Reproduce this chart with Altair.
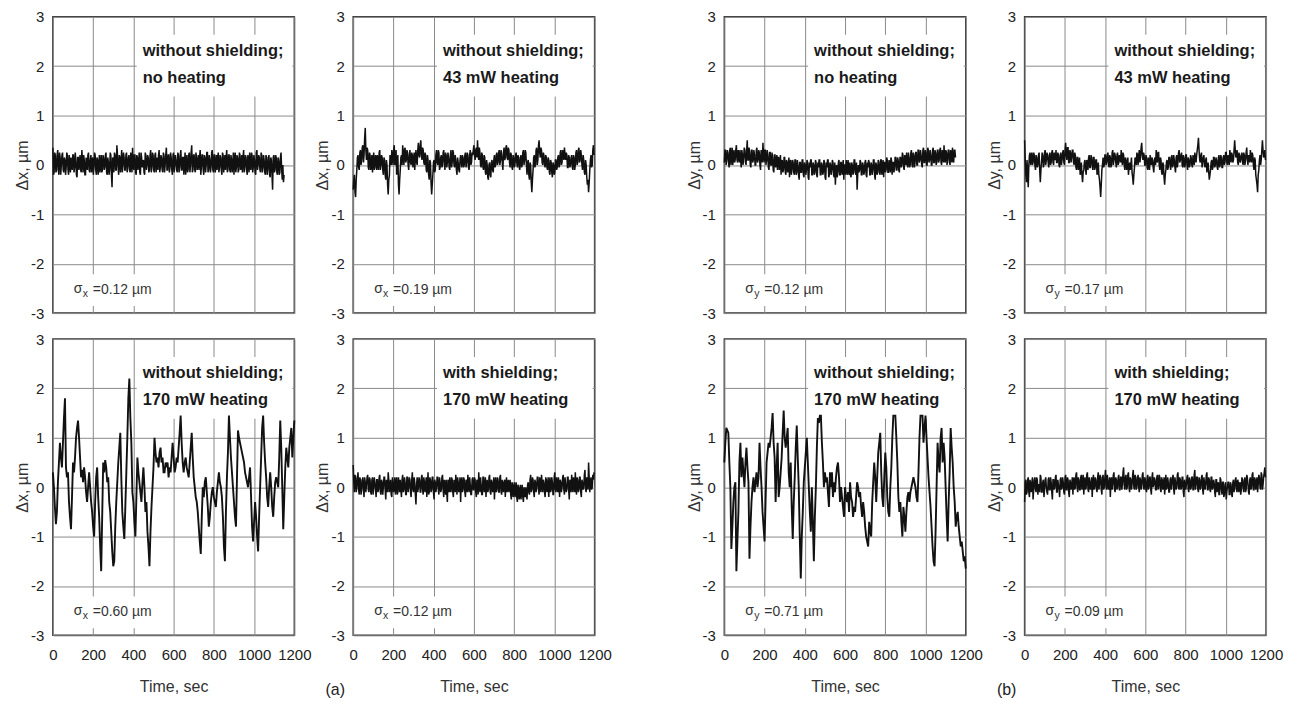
import altair as alt
import pandas as pd

# ---------------- data ----------------
TIME_TICKS = [0, 200, 400, 600, 800, 1000, 1200]
Y_TICKS = [-3, -2, -1, 0, 1, 2, 3]

# sampling steps (s) of the hand-read traces; "_B" lists are the samples read half a step later
STEP_DX_NOHEAT = 6
STEP_DX_43MW = 6
STEP_DX_170MW = 5
STEP_DX_SHIELD = 6
STEP_DY_NOHEAT = 6
STEP_DY_43MW = 6
STEP_DY_170MW = 5
STEP_DY_SHIELD = 6

DX_NOHEAT = [
    0.35, -0.15, 0.2, -0.1, 0.3, -0.2, 0.15, 0.0, 0.25, -0.15, 0.1, -0.05, 0.2, -0.2, 0.05, 0.15,
    -0.1, 0.2, -0.05, 0.1, -0.25, 0.15, 0.05, -0.1, 0.3, -0.15, 0.1, -0.2, 0.05, 0.2, -0.1, 0.1,
    -0.15, 0.15, -0.05, 0.2, -0.2, 0.1, 0.0, -0.15, 0.2, -0.1, 0.15, -0.05, 0.25, -0.2, 0.05, -0.1,
    0.2, -0.45, 0.1, 0.25, -0.1, 0.4, -0.05, 0.2, -0.15, 0.3, 0.0, 0.15, -0.1, 0.25, -0.05, 0.2,
    -0.15, 0.1, 0.35, -0.1, 0.2, -0.2, 0.15, 0.05, -0.15, 0.25, -0.05, 0.1, -0.2, 0.2, 0.0, 0.15,
    -0.1, 0.3, -0.05, 0.2, -0.15, 0.25, 0.05, -0.1, 0.3, -0.05, 0.15, -0.15, 0.2, 0.0, 0.35, -0.1,
    0.2, -0.05, 0.15, -0.2, 0.25, 0.0, 0.1, -0.15, 0.2, -0.05, 0.3, -0.1, 0.15, 0.05, -0.2, 0.2,
    -0.1, 0.25, 0.0, 0.4, -0.1, 0.2, -0.15, 0.15, 0.05, -0.1, 0.3, -0.05, 0.2, -0.2, 0.15, 0.0,
    0.25, -0.1, 0.1, -0.05, 0.3, -0.15, 0.2, 0.0, -0.1, 0.25, -0.05, 0.15, -0.2, 0.2, 0.05, -0.1,
    0.3, -0.1, 0.2, -0.15, 0.1, 0.05, -0.2, 0.25, -0.05, 0.15, -0.1, 0.2, 0.0, -0.15, 0.3, -0.05,
    0.15, -0.2, 0.1, 0.25, -0.1, 0.2, -0.05, 0.1, -0.2, 0.3, 0.0, 0.15, -0.15, 0.2, -0.05, 0.1,
    -0.2, 0.15, -0.1, 0.2, -0.25, 0.1, -0.5, 0.2, -0.1, 0.15, -0.2, 0.1, -0.15, 0.25, -0.3, -0.35,
]
DX_NOHEAT_B = [
    -0.2, 0.25, -0.15, 0.2, -0.1, 0.25, -0.2, 0.2, -0.1, 0.15, -0.2, 0.25, -0.1, 0.2, -0.15, 0.05,
    0.2, -0.15, 0.25, -0.2, 0.15, -0.1, 0.2, -0.15, 0.1, 0.2, -0.2, 0.15, -0.1, 0.25, -0.15, 0.2,
    0.1, -0.2, 0.25, -0.1, 0.15, -0.2, 0.2, 0.0, -0.15, 0.2, -0.1, 0.2, -0.15, 0.15, -0.2, 0.25,
    -0.2, 0.15, -0.15, 0.2, -0.1, 0.2, -0.2, 0.15, 0.1, -0.15, 0.25, -0.1, 0.2, -0.15, 0.15, -0.1,
    0.25, -0.15, 0.0, 0.2, -0.15, 0.2, -0.1, 0.25, -0.2, 0.15, 0.05, -0.15, 0.25, -0.1, 0.2, -0.15,
    0.2, -0.15, 0.25, -0.1, 0.2, -0.15, 0.15, 0.2, -0.15, 0.2, -0.1, 0.25, -0.15, 0.2, -0.1, 0.2,
    -0.15, 0.25, -0.1, 0.2, -0.15, 0.2, -0.1, 0.25, -0.15, 0.2, -0.1, 0.15, -0.2, 0.25, 0.1, -0.15,
    0.2, -0.15, 0.25, -0.15, 0.2, -0.1, 0.25, -0.1, 0.2, 0.15, -0.2, 0.2, -0.1, 0.2, -0.15, 0.25,
    -0.15, 0.2, -0.15, 0.25, -0.1, 0.2, -0.15, 0.2, 0.15, -0.15, 0.2, -0.1, 0.25, -0.15, 0.2, 0.15,
    -0.15, 0.2, -0.1, 0.2, -0.15, 0.25, 0.1, -0.15, 0.2, -0.15, 0.25, -0.1, 0.2, 0.15, -0.15, 0.2,
    -0.1, 0.2, -0.15, -0.05, 0.25, -0.15, 0.2, -0.15, 0.25, -0.1, 0.2, -0.1, 0.25, -0.15, 0.2, -0.15,
    0.2, -0.2, 0.15, -0.2, 0.15, -0.2, 0.15, -0.15, 0.2, -0.15, 0.15, -0.2, 0.15, -0.1, 0.0, -0.2,
]

DX_43MW = [
    -0.5, -0.2, -0.65, -0.1, 0.2, -0.1, 0.3, 0.1, 0.4, 0.2, 0.75, 0.1, 0.3, -0.1, 0.2, 0.0, -0.15, 0.25, -0.05, 0.15,
    0.2, -0.1, 0.3, 0.0, 0.15, -0.2, 0.1, -0.3, 0.0, -0.6, -0.2, 0.1, 0.3, 0.0, 0.4, 0.1, -0.2, 0.2, -0.6, -0.1,
    0.2, 0.4, 0.0, 0.35, 0.1, 0.25, -0.1, 0.3, 0.0, 0.2, 0.1, -0.1, 0.3, 0.0, 0.45, 0.15, 0.5, 0.1, 0.3, 0.0,
    0.2, -0.15, 0.1, -0.3, 0.05, -0.6, -0.2, 0.1, -0.1, 0.3, 0.0, 0.25, -0.05, 0.2, 0.0, 0.3, -0.1, 0.2, 0.05, 0.15,
    -0.1, 0.3, 0.05, 0.25, -0.05, 0.1, -0.2, 0.05, -0.15, 0.2, -0.05, 0.15, 0.0, 0.25, 0.05, 0.2, -0.1, 0.3, 0.05, 0.2,
    0.4, 0.1, 0.35, 0.5, 0.1, 0.25, -0.05, 0.2, -0.1, 0.15, -0.2, 0.0, -0.3, 0.05, -0.25, 0.1, -0.15, 0.2, 0.0, 0.25,
    0.05, 0.3, 0.1, 0.2, -0.1, 0.35, 0.15, 0.4, 0.1, 0.3, -0.05, 0.2, -0.1, 0.15, 0.0, 0.25, -0.05, 0.15, -0.1, 0.2,
    0.0, 0.3, 0.1, 0.25, -0.2, 0.1, -0.3, 0.0, -0.55, -0.1, 0.2, 0.0, 0.35, 0.1, 0.5, 0.15, 0.3, 0.0, 0.2, -0.05,
    0.15, -0.1, 0.1, -0.2, 0.05, -0.25, 0.0, -0.15, 0.1, -0.05, 0.2, 0.0, 0.3, 0.05, 0.25, 0.35, 0.1, 0.2, -0.05, 0.15,
    0.0, 0.2, -0.1, 0.15, 0.0, 0.3, 0.05, 0.35, 0.1, 0.2, -0.1, 0.1, -0.2, 0.0, -0.4, -0.55, -0.1, 0.2, 0.0, 0.4,
]
DX_43MW_B = [
    -0.3, -0.55, -0.3, 0.15, -0.05, 0.25, 0.0, 0.35, 0.05, 0.55, 0.3, 0.35, -0.05, 0.25, -0.1, 0.2, 0.1, -0.1, 0.2, -0.1,
    0.05, 0.25, -0.1, 0.2, -0.1, 0.15, -0.2, 0.1, -0.4, -0.3, 0.2, 0.0, 0.15, 0.3, 0.0, 0.3, 0.05, -0.4, -0.3, 0.15,
    0.0, 0.25, 0.3, 0.05, 0.3, 0.0, 0.2, 0.05, 0.25, -0.05, 0.25, 0.15, 0.05, 0.3, 0.2, 0.4, 0.2, 0.35, 0.05, 0.25,
    -0.1, 0.2, -0.2, 0.1, -0.35, -0.4, 0.05, -0.15, 0.2, 0.05, 0.3, -0.1, 0.15, -0.05, 0.25, 0.05, 0.25, -0.05, 0.25, -0.05,
    0.2, -0.05, 0.3, 0.0, 0.2, -0.1, 0.15, -0.1, 0.1, 0.05, 0.2, -0.05, 0.2, -0.05, 0.25, -0.05, 0.2, 0.0, 0.25, 0.3,
    0.2, 0.3, 0.15, 0.2, 0.35, 0.0, 0.25, -0.05, 0.2, -0.15, 0.1, -0.25, 0.0, -0.2, 0.05, -0.1, 0.1, -0.05, 0.2, 0.0,
    0.25, 0.0, 0.3, 0.05, 0.25, 0.1, 0.35, 0.15, 0.35, 0.05, 0.25, -0.05, 0.2, -0.05, 0.2, 0.05, 0.2, -0.05, 0.15, -0.05,
    0.25, 0.0, 0.3, 0.0, 0.05, -0.2, 0.05, -0.35, -0.3, 0.15, -0.05, 0.3, 0.0, 0.4, 0.25, 0.35, 0.05, 0.25, 0.0, 0.2,
    -0.05, 0.15, -0.15, 0.1, -0.15, 0.05, -0.2, 0.1, -0.1, 0.15, -0.05, 0.25, 0.0, 0.3, 0.1, 0.2, 0.25, -0.05, 0.2, -0.05,
    0.15, -0.05, 0.2, -0.1, 0.25, 0.0, 0.3, 0.05, 0.3, 0.0, 0.2, -0.15, 0.1, -0.25, -0.3, -0.35, 0.1, -0.05, 0.3, 0.2,
]

DX_170MW = [
    0.3, 0.0, -0.4, -0.75, -0.5, 0.1, 0.5, 0.9, 0.6, 0.4, 0.9, 1.4, 1.8, 0.4, 0.2, 0.3, -0.3, -0.6, -0.85, -0.2,
    0.5, 0.3, 0.6, 1.0, 1.2, 1.35, 1.0, 0.6, 0.2, 0.35, 0.1, 0.4, 0.2, -0.1, -0.3, 0.0, 0.3, 0.0, -0.3, -0.5,
    -0.8, -1.0, -0.3, 0.2, 0.4, -0.2, -0.6, -1.2, -1.7, -0.6, 0.5, 0.3, 0.55, 0.4, 0.1, 0.2, -0.3, -0.5, -0.9, -1.3,
    -1.6, -1.5, -0.8, -0.3, 0.1, 0.5, 0.8, 1.1, 0.2, -0.5, -0.8, -1.05, -0.4, 0.3, 1.0, 1.8, 2.2, 1.4, 0.9, -0.1,
    -0.3, -0.7, -1.0, -0.2, 0.6, 0.3, 0.1, -0.1, -0.3, 0.1, 0.4, 0.0, -0.5, -0.3, -0.9, -1.2, -1.6, -0.9, -0.4, 0.0,
    0.4, 1.0, 0.7, 0.5, 0.6, 0.4, 0.7, 0.8, 0.5, 0.6, 0.3, 0.3, 0.5, 0.4, 0.5, 0.2, 0.4, 0.3, 0.6, 0.9,
    0.6, 0.3, 0.4, 0.6, 0.5, 0.8, 1.1, 1.45, 0.9, 0.5, 0.3, 0.5, 0.6, 0.4, 0.3, 0.2, 0.5, 0.8, 1.1, 0.6,
    0.2, 0.0, -0.2, -0.3, -0.5, -0.8, -1.1, -1.35, -0.6, 0.0, -0.2, 0.1, 0.2, -0.1, -0.4, -0.8, -0.6, -0.3, -0.1, 0.0,
    -0.2, -0.3, -0.4, -0.1, 0.1, 0.3, 0.1, 0.0, -0.2, -0.6, -1.2, -1.5, -0.5, 0.2, 0.7, 1.45, 1.0, 0.6, 0.3, 0.0,
    -0.3, -0.6, -0.8, 0.2, 1.15, 1.0, 0.9, 0.8, 0.7, 0.6, 0.5, 0.3, 0.2, 0.1, 0.0, 0.2, 0.4, -0.2, -0.8, -1.1,
    -0.7, -0.3, -0.6, -1.0, -1.3, -0.6, 0.0, 0.6, 1.2, 1.45, 0.9, 0.5, 0.2, -0.2, -0.4, 0.0, 0.3, 0.0, -0.4, -0.6,
    -0.2, 0.1, 0.2, 0.1, 0.0, 0.6, 1.35, 0.8, 0.0, -0.85, -0.2, 0.4, 0.8, 0.6, 0.4, 0.8, 1.0, 1.2, 0.6, 1.0,
    1.35,
]

DX_SHIELD = [
    0.45, -0.1, 0.2, 0.0, 0.3, -0.15, 0.15, -0.05, 0.2, -0.2, 0.1, 0.05, 0.25, -0.1, 0.15, -0.15, 0.2, 0.0, 0.1, -0.2,
    0.15, -0.05, 0.25, -0.15, 0.1, 0.0, 0.2, -0.25, 0.05, 0.3, -0.1, 0.15, -0.2, 0.1, 0.0, -0.15, 0.2, -0.1, 0.05, 0.15,
    -0.2, 0.25, -0.05, 0.1, -0.15, 0.2, 0.0, 0.15, -0.2, 0.3, -0.1, 0.1, -0.35, 0.2, 0.0, 0.15, -0.1, 0.25, -0.15, 0.1,
    0.05, -0.2, 0.3, -0.1, 0.15, -0.05, 0.2, -0.25, 0.1, 0.0, 0.2, -0.15, 0.1, -0.05, 0.25, -0.2, 0.05, 0.15, -0.3, 0.1,
    0.2, -0.1, 0.15, -0.2, 0.05, 0.25, -0.15, 0.1, 0.0, -0.3, 0.2, -0.05, 0.15, -0.2, 0.1, 0.25, -0.1, 0.05, -0.15, 0.2,
    -0.05, 0.15, -0.2, 0.1, 0.3, -0.1, 0.05, -0.15, 0.2, 0.0, -0.2, 0.15, -0.05, 0.25, -0.15, 0.1, 0.0, -0.25, 0.2, -0.05,
    0.15, -0.1, 0.25, -0.15, 0.05, 0.1, -0.2, 0.2, 0.0, -0.1, 0.15, -0.25, 0.05, -0.05, -0.2, 0.1, -0.3, 0.0, -0.15, -0.25,
    0.05, -0.3, -0.1, 0.0, -0.25, 0.1, -0.15, 0.25, -0.05, 0.15, -0.2, 0.1, 0.0, 0.2, -0.15, 0.05, 0.25, -0.1, 0.1, -0.2,
    0.15, 0.0, -0.2, 0.2, -0.05, 0.1, -0.15, 0.3, -0.1, 0.05, 0.2, -0.2, 0.1, 0.0, 0.25, -0.15, 0.05, -0.05, 0.2, -0.25,
    0.1, 0.25, -0.1, 0.05, 0.3, -0.15, 0.15, -0.05, 0.2, -0.2, 0.1, 0.0, 0.35, -0.1, 0.15, 0.5, -0.1, 0.2, 0.0, 0.15,
]
DX_SHIELD_B = [
    0.1, 0.25, -0.1, 0.2, -0.05, 0.2, -0.15, 0.15, -0.05, 0.2, -0.1, 0.2, -0.05, 0.2, -0.1, 0.15, -0.15, 0.2, -0.05, 0.15,
    -0.1, 0.2, -0.1, 0.15, -0.15, 0.2, -0.05, 0.15, -0.1, 0.15, 0.05, -0.15, 0.2, -0.1, 0.2, 0.05, -0.15, 0.2, -0.1, -0.05,
    0.15, -0.1, 0.2, -0.15, 0.2, -0.1, 0.2, -0.1, 0.15, -0.05, 0.2, -0.15, 0.05, -0.1, 0.2, -0.1, 0.2, -0.05, 0.2, -0.1,
    0.2, 0.05, -0.15, 0.2, -0.1, 0.2, -0.1, 0.15, -0.1, 0.2, -0.05, 0.2, -0.1, 0.2, -0.05, 0.15, -0.15, -0.1, 0.15, -0.1,
    -0.05, 0.2, -0.1, 0.15, -0.1, 0.05, 0.2, -0.1, 0.2, 0.1, -0.1, 0.2, -0.1, 0.15, -0.1, 0.05, 0.2, -0.15, 0.15, -0.05,
    0.2, -0.1, 0.15, -0.15, 0.05, 0.2, -0.15, 0.2, -0.1, 0.2, 0.05, -0.1, 0.2, -0.1, 0.15, -0.1, 0.2, 0.05, -0.1, 0.2,
    -0.1, 0.2, -0.1, 0.15, -0.1, 0.15, 0.05, -0.1, 0.15, 0.05, -0.15, 0.1, -0.2, 0.1, -0.1, -0.2, 0.05, -0.25, 0.05, -0.1,
    -0.2, 0.0, -0.2, -0.15, 0.05, -0.1, 0.15, -0.1, 0.2, -0.1, 0.15, -0.1, 0.2, -0.05, 0.2, -0.1, 0.1, 0.15, -0.1, 0.2,
    -0.1, 0.2, 0.05, -0.1, 0.2, -0.15, 0.2, -0.05, 0.2, -0.1, 0.05, 0.15, -0.1, 0.2, -0.05, 0.2, -0.1, 0.2, -0.05, 0.15,
    -0.1, 0.05, 0.2, -0.1, 0.0, 0.2, -0.1, 0.2, -0.1, 0.15, -0.05, 0.25, -0.05, 0.2, -0.05, 0.2, 0.1, -0.05, 0.25, 0.3,
]

DY_NOHEAT = [
    0.05, 0.3, 0.1, 0.25, -0.05, 0.35, 0.15, 0.0, 0.3, 0.1, 0.4, 0.05, 0.2, 0.3, -0.05, 0.2,
    0.15, 0.3, 0.0, 0.5, 0.1, 0.25, -0.05, 0.3, 0.1, 0.2, 0.0, 0.35, 0.1, 0.25, -0.1, 0.2,
    0.45, 0.05, 0.3, 0.1, 0.2, -0.1, 0.25, 0.0, 0.15, -0.15, 0.2, 0.05, -0.1, 0.15, 0.0, -0.2,
    0.1, -0.1, 0.15, -0.2, 0.05, 0.0, -0.25, 0.1, -0.1, 0.05, -0.2, 0.1, -0.15, 0.0, -0.3, 0.05,
    -0.15, 0.1, -0.25, 0.0, -0.1, 0.05, -0.3, -0.05, 0.1, -0.2, 0.0, -0.15, 0.05, -0.25, -0.05, 0.1,
    -0.2, 0.0, -0.15, 0.05, -0.3, -0.05, 0.1, -0.2, 0.0, -0.1, 0.05, -0.25, -0.4, 0.0, -0.15, 0.1,
    -0.2, 0.05, -0.1, -0.3, 0.0, 0.1, -0.2, -0.05, 0.05, -0.25, 0.0, -0.15, 0.1, -0.2, -0.5, 0.0,
    -0.1, 0.05, -0.2, 0.0, -0.15, 0.1, -0.25, -0.05, 0.05, -0.2, 0.0, -0.1, 0.1, -0.3, 0.0, -0.15,
    0.05, -0.2, 0.1, -0.05, -0.25, 0.05, -0.1, 0.1, -0.15, 0.0, 0.15, -0.2, 0.05, -0.05, 0.15, -0.1,
    0.1, -0.15, 0.15, 0.0, 0.2, -0.1, 0.05, 0.25, -0.05, 0.15, 0.0, 0.3, -0.05, 0.2, 0.05, 0.25,
    0.0, 0.3, 0.1, 0.2, -0.05, 0.35, 0.05, 0.25, 0.0, 0.3, 0.1, 0.2, 0.0, 0.35, 0.05, 0.25,
    0.05, 0.3, 0.1, 0.35, 0.0, 0.2, 0.4, 0.05, 0.25, 0.1, 0.3, 0.0, 0.2, 0.35, 0.05, 0.3,
]
DY_NOHEAT_B = [
    0.3, 0.0, 0.3, 0.05, 0.3, 0.0, 0.35, 0.2, 0.05, 0.3, 0.1, 0.3, 0.05, 0.1, 0.3, 0.0,
    0.35, 0.05, 0.3, 0.1, 0.35, 0.0, 0.3, 0.05, 0.3, 0.0, 0.3, 0.05, 0.3, 0.0, 0.3, 0.05,
    0.2, 0.3, 0.0, 0.3, -0.05, 0.25, 0.0, 0.25, -0.1, 0.2, -0.05, 0.2, 0.15, -0.1, 0.2, 0.05,
    -0.15, 0.15, -0.15, 0.1, -0.15, 0.15, 0.05, -0.2, 0.1, -0.15, 0.1, -0.2, 0.1, -0.2, 0.05, -0.15,
    0.1, -0.2, 0.05, -0.2, 0.1, -0.25, 0.05, 0.1, -0.2, 0.05, -0.2, 0.1, -0.2, 0.05, 0.1, -0.2,
    0.05, -0.2, 0.1, -0.25, 0.05, 0.1, -0.25, 0.05, -0.2, 0.1, -0.2, 0.05, -0.1, -0.25, 0.05, -0.2,
    0.05, -0.2, 0.1, 0.0, -0.2, -0.05, 0.1, -0.2, -0.2, 0.05, -0.2, 0.1, -0.15, 0.05, -0.2, -0.15,
    0.1, -0.2, 0.05, -0.2, 0.05, -0.2, 0.05, 0.1, -0.2, 0.05, -0.2, 0.1, -0.2, 0.05, -0.2, 0.1,
    -0.15, 0.1, -0.2, 0.1, 0.05, -0.15, 0.15, -0.15, 0.1, -0.15, 0.1, 0.05, -0.15, 0.15, -0.1, 0.15,
    -0.1, 0.15, -0.05, 0.25, -0.05, 0.2, 0.0, 0.0, 0.25, -0.05, 0.25, 0.0, 0.25, -0.05, 0.25, 0.0,
    0.3, 0.05, 0.3, 0.0, 0.3, 0.05, 0.3, 0.0, 0.35, 0.05, 0.3, 0.0, 0.3, 0.05, 0.3, 0.0,
    0.3, 0.05, 0.3, 0.05, 0.3, 0.05, 0.1, 0.3, 0.0, 0.3, 0.05, 0.3, 0.05, 0.1, 0.3, 0.15,
]

DY_43MW = [
    0.5, -0.2, 0.1, -0.45, 0.2, 0.0, 0.25, 0.05, 0.2, -0.1, 0.15, 0.0, 0.25, -0.35, 0.05, 0.2, 0.0, 0.3, 0.1, 0.2,
    -0.05, 0.25, 0.05, 0.3, 0.0, 0.15, 0.3, 0.05, 0.2, -0.05, 0.25, 0.1, 0.3, 0.0, 0.45, 0.1, 0.35, 0.05, 0.25, 0.15,
    0.3, 0.0, 0.2, -0.1, 0.15, 0.0, -0.2, 0.05, -0.35, -0.1, 0.1, -0.2, 0.05, 0.15, -0.05, 0.2, 0.0, 0.15, -0.1, 0.1,
    -0.2, 0.05, -0.3, -0.65, -0.1, 0.15, 0.0, 0.2, 0.05, 0.25, -0.05, 0.15, 0.0, 0.3, 0.1, 0.2, -0.05, 0.25, 0.05, 0.15,
    0.3, 0.0, 0.2, -0.1, 0.1, 0.0, -0.2, 0.05, 0.0, -0.15, -0.4, -0.05, 0.1, 0.25, 0.0, 0.3, 0.15, 0.45, 0.1, 0.2,
    0.0, 0.15, -0.1, 0.05, 0.2, 0.0, 0.1, -0.15, 0.15, 0.3, 0.05, 0.25, -0.1, 0.1, -0.2, 0.0, -0.4, -0.1, 0.1, -0.05,
    0.15, -0.1, 0.2, 0.0, 0.1, -0.15, 0.2, 0.05, 0.3, 0.1, 0.25, -0.05, 0.15, 0.0, 0.2, -0.1, 0.1, 0.0, 0.15, -0.05,
    0.1, 0.25, 0.05, 0.3, 0.55, 0.1, 0.2, -0.05, 0.15, 0.0, 0.1, -0.15, 0.05, -0.3, -0.1, 0.1, -0.05, 0.15, 0.0, 0.1,
    -0.1, 0.2, 0.0, 0.15, -0.05, 0.2, 0.05, 0.25, 0.0, 0.15, 0.3, 0.05, 0.2, 0.1, 0.5, 0.15, 0.3, 0.0, 0.2, 0.1,
    0.25, 0.0, 0.2, 0.1, 0.35, 0.0, 0.15, 0.3, 0.05, 0.2, -0.1, 0.1, -0.3, -0.55, -0.1, 0.2, 0.1, 0.5, 0.15, 0.3,
]
DY_43MW_B = [
    0.1, -0.35, -0.2, 0.0, 0.25, 0.1, 0.0, 0.25, 0.0, 0.2, -0.05, 0.2, -0.1, -0.1, 0.25, -0.05, 0.25, 0.0, 0.25, 0.05,
    0.2, 0.0, 0.25, 0.05, 0.25, 0.1, 0.05, 0.25, 0.0, 0.2, 0.0, 0.25, 0.05, 0.3, 0.2, 0.35, 0.05, 0.3, 0.05, 0.3,
    0.05, 0.25, -0.05, 0.15, -0.1, 0.15, -0.15, -0.2, -0.15, 0.05, -0.1, 0.1, -0.1, 0.2, -0.05, 0.15, -0.1, 0.15, -0.05, 0.1,
    -0.1, -0.2, -0.45, -0.4, 0.0, -0.05, 0.2, 0.0, 0.2, 0.0, 0.2, -0.05, 0.25, 0.0, 0.25, 0.05, 0.2, 0.0, 0.2, 0.05,
    0.1, 0.25, 0.0, 0.15, -0.1, 0.15, -0.05, -0.1, 0.15, -0.25, -0.2, 0.15, 0.0, 0.2, 0.2, 0.05, 0.35, 0.2, 0.25, 0.0,
    0.2, -0.05, 0.15, -0.1, 0.1, 0.15, -0.05, 0.1, 0.0, 0.1, 0.25, 0.0, 0.15, -0.15, 0.05, -0.25, -0.2, 0.05, -0.1, 0.15,
    0.0, 0.15, -0.05, 0.2, -0.05, 0.15, -0.05, 0.25, 0.05, 0.2, 0.0, 0.2, -0.05, 0.2, 0.0, 0.15, -0.05, 0.2, 0.0, 0.2,
    0.0, 0.15, 0.2, 0.4, 0.3, 0.05, 0.25, 0.05, 0.2, -0.05, 0.15, -0.05, -0.15, -0.2, 0.05, -0.1, 0.15, -0.05, 0.15, -0.05,
    0.15, -0.05, 0.2, -0.05, 0.15, 0.0, 0.25, 0.05, 0.2, 0.0, 0.2, 0.25, 0.05, 0.3, 0.3, 0.25, 0.05, 0.25, 0.05, 0.2,
    0.05, 0.25, 0.0, 0.25, 0.1, 0.2, 0.05, 0.15, 0.25, 0.0, 0.15, -0.2, -0.4, -0.2, 0.1, 0.0, 0.3, 0.3, 0.2, 0.1,
]

DY_170MW = [
    0.5, 0.9, 1.2, 1.15, 1.1, 0.5, 0.0, -1.25, -0.8, -0.3, 0.0, 0.1, -1.7, -1.1, -0.5, 0.5, 0.9, 0.2, 0.6, 0.3,
    0.0, 0.5, 0.8, 0.4, 0.1, -1.45, -0.8, -0.3, 0.0, 0.2, -0.1, 0.1, 0.3, 0.0, 0.2, 0.9, 0.4, 0.0, -0.5, -0.8,
    -1.1, -0.3, 0.5, 0.7, 0.9, 0.8, 1.0, 1.2, 1.5, 0.9, 0.6, -0.3, 0.4, 0.9, -0.2, 0.0, 0.3, 0.6, 1.1, 1.55,
    1.0, 0.8, 1.0, 1.2, 0.3, 0.0, 0.5, -0.4, -1.05, -0.3, 0.2, 0.8, 1.25, 0.6, 0.0, -1.0, -1.85, -1.0, -0.5, 0.1,
    0.4, 0.7, 1.0, 0.5, 0.0, -0.5, -0.9, 0.0, -0.7, -1.5, -0.6, 0.0, 0.8, 1.4, 1.3, 1.45, 1.45, 0.9, 0.5, 0.0,
    0.3, 0.1, 0.2, -0.1, -0.4, 0.3, 0.0, 0.3, -0.2, 0.1, -0.1, 0.2, 0.4, 0.5, 0.2, -0.3, 0.0, -0.2, -0.4, -0.6,
    0.0, -0.2, -0.3, -0.1, -0.5, 0.1, -0.2, -0.3, -0.6, -0.4, -0.5, -0.2, 0.1, 0.0, -0.2, -0.1, -0.4, -0.6, -0.3, -0.5,
    -0.8, -1.0, -1.1, -1.2, -0.7, -0.9, -1.0, -0.3, 0.1, 0.5, 0.2, -0.3, 0.2, 0.7, 0.9, 1.1, 0.3, -0.2, -0.4, 0.2,
    0.7, 0.4, -0.2, -0.5, -0.6, 0.0, 0.4, 1.0, 1.45, 1.45, 1.45, 1.0, 0.5, -0.2, -0.5, -0.3, -0.7, -1.0, -0.4, -0.6,
    -0.9, -0.5, -0.2, -0.1, -0.3, -0.1, 0.0, 0.1, 0.2, 0.1, 0.0, -0.2, -0.3, 0.3, 1.0, 1.45, 1.45, 1.45, 0.9, 1.2,
    1.45, 1.0, 0.6, 0.2, -0.1, -0.4, -0.8, -1.2, -1.5, -1.6, -0.9, 0.0, 0.9, 0.5, 0.3, 1.0, 1.2, 0.5, 0.9, 0.6,
    0.0, -0.6, -1.1, -0.3, 0.3, 1.2, 0.8, 0.5, 0.0, -0.3, -0.8, -0.6, -0.5, -0.8, -1.0, -1.2, -1.1, -1.3, -1.5, -1.4,
    -1.65,
]

DY_SHIELD = [
    -0.3, 0.15, -0.1, 0.2, -0.2, 0.05, 0.1, -0.25, 0.15, -0.05, 0.2, -0.15, 0.05, 0.25, -0.1, 0.1, -0.2, 0.15, 0.0, -0.15,
    0.2, -0.05, 0.1, -0.25, 0.15, 0.0, 0.25, -0.1, 0.05, -0.2, 0.2, 0.0, 0.1, -0.15, 0.25, -0.05, 0.15, -0.2, 0.1, 0.05,
    -0.15, 0.2, 0.0, 0.3, -0.1, 0.15, -0.05, 0.25, 0.05, -0.15, 0.2, 0.0, 0.3, -0.1, 0.1, 0.05, -0.2, 0.25, 0.0, 0.15,
    -0.1, 0.3, 0.05, 0.2, -0.15, 0.25, 0.0, 0.35, -0.05, 0.15, 0.0, -0.2, 0.2, 0.05, 0.3, -0.1, 0.15, 0.0, 0.25, -0.05,
    0.2, 0.05, 0.4, -0.05, 0.25, 0.0, 0.3, -0.1, 0.15, 0.05, 0.35, -0.05, 0.2, 0.0, 0.25, -0.1, 0.15, 0.05, 0.3, -0.05,
    0.15, -0.1, 0.25, 0.0, 0.2, -0.15, 0.3, 0.05, 0.15, -0.05, 0.25, 0.0, 0.2, -0.1, 0.15, 0.05, -0.15, 0.25, 0.0, 0.1,
    -0.1, 0.2, 0.05, 0.25, -0.15, 0.1, 0.0, 0.3, -0.05, 0.15, 0.0, 0.2, -0.2, 0.1, 0.05, 0.25, -0.1, 0.15, 0.0, 0.2,
    -0.05, 0.35, 0.05, 0.2, -0.1, 0.15, 0.0, 0.25, -0.15, 0.1, 0.05, 0.3, -0.05, 0.15, -0.1, 0.2, 0.0, 0.1, -0.2, 0.15,
    0.05, -0.15, 0.2, -0.05, 0.1, -0.2, 0.05, -0.25, 0.0, 0.1, -0.15, 0.05, -0.2, 0.15, 0.0, 0.2, -0.1, 0.1, 0.05, -0.15,
    0.2, 0.0, 0.15, -0.1, 0.25, 0.05, -0.15, 0.2, 0.0, 0.3, -0.05, 0.15, 0.1, -0.1, 0.25, 0.0, 0.3, -0.05, 0.2, 0.4,
]
DY_SHIELD_B = [
    0.1, -0.15, 0.15, -0.1, 0.15, -0.1, 0.2, -0.05, 0.2, -0.1, 0.15, 0.05, -0.1, 0.2, -0.1, 0.15, -0.05, 0.2, -0.1, 0.15,
    -0.05, 0.2, -0.1, 0.15, -0.05, 0.2, -0.1, 0.15, -0.05, 0.15, -0.05, 0.2, -0.1, 0.2, -0.05, 0.2, -0.1, 0.15, -0.05, 0.2,
    0.15, -0.05, 0.25, 0.0, 0.2, -0.05, 0.2, -0.05, 0.25, 0.1, -0.05, 0.25, -0.05, 0.2, -0.05, 0.2, 0.1, -0.05, 0.2, -0.05,
    0.2, -0.05, 0.25, -0.05, 0.2, -0.05, 0.2, 0.0, 0.25, -0.05, 0.2, 0.1, -0.05, 0.25, -0.05, 0.2, -0.05, 0.2, -0.05, 0.2,
    -0.05, 0.3, 0.05, 0.2, -0.05, 0.25, 0.0, 0.2, -0.05, 0.25, 0.0, 0.25, -0.05, 0.2, 0.0, 0.2, -0.05, 0.25, 0.0, 0.2,
    -0.05, 0.2, -0.05, 0.2, -0.05, 0.2, 0.0, 0.2, -0.05, 0.2, -0.05, 0.25, -0.05, 0.2, -0.05, 0.2, 0.05, -0.05, 0.2, -0.1,
    0.15, -0.05, 0.2, -0.05, 0.2, -0.05, 0.25, 0.0, 0.2, -0.05, 0.2, -0.1, 0.15, -0.05, 0.2, -0.05, 0.2, -0.05, 0.2, -0.05,
    0.25, -0.05, 0.2, -0.05, 0.2, -0.05, 0.2, -0.05, 0.2, -0.05, 0.25, -0.05, 0.2, -0.05, 0.2, -0.05, 0.15, -0.1, 0.15, -0.1,
    0.1, -0.15, 0.15, -0.15, 0.1, -0.15, 0.1, -0.1, 0.1, -0.15, 0.1, -0.15, 0.1, -0.1, 0.15, -0.05, 0.15, -0.1, 0.1, -0.05,
    0.15, -0.1, 0.2, -0.05, 0.2, -0.1, 0.15, -0.05, 0.25, -0.05, 0.2, -0.05, 0.2, 0.05, 0.2, -0.05, 0.25, 0.05, 0.3, 0.2,
]

# annotation texts
COND_LINE1 = ["without shielding;", "without shielding;", "without shielding;", "with shielding;",
              "without shielding;", "without shielding;", "without shielding;", "with shielding;"]
COND_LINE2 = ["no heating", "43 mW heating", "170 mW heating", "170 mW heating",
              "no heating", "43 mW heating", "170 mW heating", "170 mW heating"]
SIGMA_SUB = ["x", "x", "x", "x", "y", "y", "y", "y"]
SIGMA_VAL = ["=0.12 µm", "=0.19 µm", "=0.60 µm", "=0.12 µm",
             "=0.12 µm", "=0.17 µm", "=0.71 µm", "=0.09 µm"]
Y_TITLES = ["Δx, µm"] * 4 + ["Δy, µm"] * 4
GROUP_TAGS = ["(a)", "(b)"]

# ---------------- layout / style ----------------
W = 242
H = 297
ONE = pd.DataFrame({"k": [0]})
FONT = "Liberation Sans"


def trace_frame(values, step, extra=None):
    t = [k * step for k in range(len(values))]
    v = list(values)
    if extra is not None:
        t += [k * step + step / 2 for k in range(len(extra))]
        v += list(extra)
    return pd.DataFrame({"t": t, "v": v}).sort_values("t")


def panel(df, i, bottom, width, tag=None):
    if bottom:
        xax = alt.Axis(values=TIME_TICKS, grid=True, ticks=False, domain=False,
                       labels=True, labelOverlap=False, labelFlush=False,
                       labelExpr="'' + datum.value", title="Time, sec")
    else:
        xax = alt.Axis(values=TIME_TICKS, grid=True, ticks=False, domain=False,
                       labels=False, title=None)
    yax = alt.Axis(values=Y_TICKS, grid=True, ticks=False, domain=False,
                   labelOverlap=False, labelFlush=False,
                   labelExpr="'' + datum.value", title=Y_TITLES[i])

    line = alt.Chart(df).mark_line(color="#111111", strokeWidth=width).encode(
        x=alt.X("t:Q", scale=alt.Scale(domain=[0, 1200], nice=False, zero=False), axis=xax),
        y=alt.Y("v:Q", scale=alt.Scale(domain=[-3, 3], nice=False, zero=False), axis=yax),
        order="t:Q",
    )
    box1 = alt.Chart(ONE).mark_rect(fill="white").encode(
        x=alt.value(84), x2=alt.value(W - 2), y=alt.value(18), y2=alt.value(80))
    box2 = alt.Chart(ONE).mark_rect(fill="white").encode(
        x=alt.value(10), x2=alt.value(115), y=alt.value(258), y2=alt.value(290))

    t1 = alt.Chart(ONE).mark_text(text=COND_LINE1[i], align="left", baseline="middle",
                                  fontSize=16.5, fontWeight="bold", color="#1a1a1a", font=FONT).encode(
        x=alt.value(90), y=alt.value(34))
    t2 = alt.Chart(ONE).mark_text(text=COND_LINE2[i], align="left", baseline="middle",
                                  fontSize=16.5, fontWeight="bold", color="#1a1a1a", font=FONT).encode(
        x=alt.value(90), y=alt.value(61))
    s0 = alt.Chart(ONE).mark_text(text="σ", align="left", baseline="middle",
                                  fontSize=14, color="#333333", font=FONT).encode(
        x=alt.value(21), y=alt.value(273))
    s1 = alt.Chart(ONE).mark_text(text=SIGMA_SUB[i], align="left", baseline="middle",
                                  fontSize=10.5, color="#333333", font=FONT).encode(
        x=alt.value(30), y=alt.value(278))
    s2 = alt.Chart(ONE).mark_text(text=SIGMA_VAL[i], align="left", baseline="middle",
                                  fontSize=14, color="#333333", font=FONT).encode(
        x=alt.value(40), y=alt.value(274))
    layers = [box1, box2, line, t1, t2, s0, s1, s2]
    if tag is not None:
        layers.append(alt.Chart(ONE).mark_text(text=tag, align="center", baseline="middle",
                                               fontSize=16, color="#222222", font=FONT).encode(
            x=alt.value(-18), y=alt.value(352)))
    return alt.layer(*layers).properties(width=W, height=H)


BAND_W = 1.5
BIG_W = 1.9
p1 = panel(trace_frame(DX_NOHEAT, STEP_DX_NOHEAT, DX_NOHEAT_B), 0, False, BAND_W)
p2 = panel(trace_frame(DX_43MW, STEP_DX_43MW, DX_43MW_B), 1, False, BAND_W)
p3 = panel(trace_frame(DX_170MW, STEP_DX_170MW), 2, True, BIG_W)
p4 = panel(trace_frame(DX_SHIELD, STEP_DX_SHIELD, DX_SHIELD_B), 3, True, BAND_W, GROUP_TAGS[0])
p5 = panel(trace_frame(DY_NOHEAT, STEP_DY_NOHEAT, DY_NOHEAT_B), 4, False, BAND_W)
p6 = panel(trace_frame(DY_43MW, STEP_DY_43MW, DY_43MW_B), 5, False, BAND_W)
p7 = panel(trace_frame(DY_170MW, STEP_DY_170MW), 6, True, BIG_W)
p8 = panel(trace_frame(DY_SHIELD, STEP_DY_SHIELD, DY_SHIELD_B), 7, True, BAND_W, GROUP_TAGS[1])

VS = 9
HS = 1
col1 = alt.vconcat(p1, p3, spacing=VS)
col2 = alt.vconcat(p2, p4, spacing=VS)
col3 = alt.vconcat(p5, p7, spacing=VS)
col4 = alt.vconcat(p6, p8, spacing=VS)
group_a = alt.hconcat(col1, col2, spacing=HS)
group_b = alt.hconcat(col3, col4, spacing=HS)

chart = alt.hconcat(group_a, group_b, spacing=72).properties(
    padding={"left": 5, "top": 0, "right": 5, "bottom": 0},
    background="white",
).configure(font=FONT).configure_view(
    stroke="#333333", strokeWidth=1.5
).configure_axis(
    labelFont=FONT, labelFontSize=15, labelColor="#222222",
    titleFont=FONT, titleFontSize=16, titleFontWeight="normal", titleColor="#333333",
    gridColor="#8a8a8a", gridWidth=1, gridOpacity=1,
).configure_axisX(
    labelPadding=12, titlePadding=16,
).configure_axisY(
    labelPadding=9, titlePadding=0,
)

chart.save("out.html", embed_options={"renderer": "svg", "actions": False})
